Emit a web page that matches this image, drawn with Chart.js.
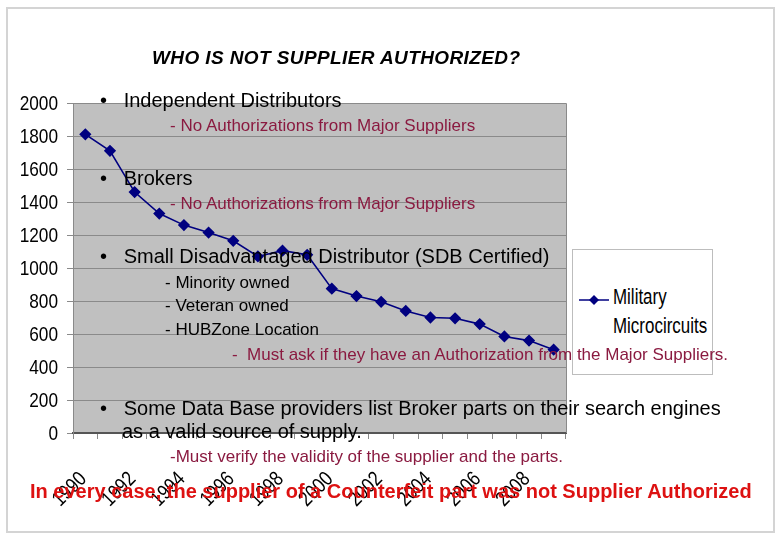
<!DOCTYPE html>
<html>
<head>
<meta charset="utf-8">
<script src="https://cdn.jsdelivr.net/npm/chart.js@4.4.1/dist/chart.umd.min.js"></script>
<style>
  body { margin: 0; background: #fff; }
  #wrap { position: relative; width: 780px; height: 540px; overflow: hidden; }
  #frame { position: absolute; left: 6px; top: 7px; width: 765px; height: 522px; border: 2px solid #d4d4d4; }
  canvas { position: absolute; left: 0; top: 0; }
  .t { position: absolute; white-space: nowrap; line-height: 1; font-family: "Liberation Sans", Arial, sans-serif; }
  .b { font-size: 20px; color: #000; }
  .s { font-size: 17px; color: #8a1a40; }
  .k { font-size: 17px; color: #000; }
  #title { left: 152px; top: 48px; font-size: 19px; font-weight: bold; font-style: italic; letter-spacing: 0.4px; }
  #legend { position: absolute; left: 572px; top: 249px; width: 139px; height: 124px; border: 1px solid #bdbdbd; background: #fff; }
  #legend svg { position: absolute; left: 5px; top: 44px; }
  #legend .lt { position: absolute; left: 40px; top: 32px; font-family: "Liberation Sans", Arial, sans-serif; font-size: 22px; line-height: 29px; color: #000; transform: scaleX(0.77); transform-origin: left top; }
  #red { left: 30px; top: 481px; font-weight: bold; font-size: 20px; color: #dd1111; transform-origin: left top; }
</style>
</head>
<body>
<div id="wrap">
  <div id="frame"></div>
  <div id="legend">
    <svg width="32" height="12"><line x1="1" y1="6" x2="31" y2="6" stroke="#000080" stroke-width="1.5"/><polygon points="16,1 21,6 16,11 11,6" fill="#000080"/></svg>
    <div class="lt">Military<br>Microcircuits</div>
  </div>
  <canvas id="chart" width="780" height="540"></canvas>
  <div class="t" id="title">WHO IS NOT SUPPLIER AUTHORIZED?</div>
  <div class="t b" style="left:100px;top:90px">•&nbsp;&nbsp;&nbsp;Independent Distributors</div>
  <div class="t s" style="left:170px;top:117px">- No Authorizations from Major Suppliers</div>
  <div class="t b" style="left:100px;top:168px">•&nbsp;&nbsp;&nbsp;Brokers</div>
  <div class="t s" style="left:170px;top:195px">- No Authorizations from Major Suppliers</div>
  <div class="t b" style="left:100px;top:246px">•&nbsp;&nbsp;&nbsp;Small Disadvantaged Distributor (SDB Certified)</div>
  <div class="t k" style="left:165px;top:274px">- Minority owned</div>
  <div class="t k" style="left:165px;top:297px">- Veteran owned</div>
  <div class="t k" style="left:165px;top:321px">- HUBZone Location</div>
  <div class="t s" style="left:232px;top:346px">-&nbsp;&nbsp;Must ask if they have an Authorization from the Major Suppliers.</div>
  <div class="t b" style="left:100px;top:398px">•&nbsp;&nbsp;&nbsp;Some Data Base providers list Broker parts on their search engines</div>
  <div class="t b" style="left:122px;top:421px">as a valid source of supply.</div>
  <div class="t s" style="left:170px;top:448px">-Must verify the validity of the supplier and the parts.</div>
  <div class="t" id="red">In every case, the supplier of a Counterfeit part was not Supplier Authorized</div>
</div>
<script>
var years = ['1990', '1991', '1992', '1993', '1994', '1995', '1996', '1997', '1998', '1999',
             '2000', '2001', '2002', '2003', '2004', '2005', '2006', '2007', '2008', '2009'];
var militaryMicrocircuits = [1810, 1710, 1460, 1330, 1260, 1215, 1165, 1070, 1105, 1080,
                             875, 830, 795, 740, 700, 695, 660, 585, 560, 505];
var yTicks = [0, 200, 400, 600, 800, 1000, 1200, 1400, 1600, 1800, 2000];

// squeeze the red line to the width it has on the slide
var red = document.getElementById('red');
red.style.transform = 'scaleX(' + (722 / red.offsetWidth) + ')';

// gray plot area with a thin border, like the old spreadsheet chart
var plotArea = {
    id: 'plotArea',
    beforeDraw: function (chart) {
        var a = chart.chartArea, ctx = chart.ctx;
        ctx.save();
        ctx.fillStyle = '#c0c0c0';
        ctx.fillRect(a.left, a.top, a.right - a.left, a.bottom - a.top);
        ctx.restore();
    },
    beforeDatasetsDraw: function (chart) {
        var a = chart.chartArea, ctx = chart.ctx;
        ctx.save();
        ctx.strokeStyle = '#8a8a8a';
        ctx.lineWidth = 1;
        ctx.beginPath();
        ctx.moveTo(a.left, a.top + 0.5);
        ctx.lineTo(a.right + 0.5, a.top + 0.5);
        ctx.lineTo(a.right + 0.5, a.bottom);
        ctx.stroke();
        ctx.restore();
    }
};

// narrow tick labels (no Arial Narrow here, so squeeze Liberation Sans)
var narrowTicks = {
    id: 'narrowTicks',
    afterDraw: function (chart) {
        var ctx = chart.ctx, xs = chart.scales.x, ys = chart.scales.y;
        ctx.save();
        ctx.fillStyle = '#000';
        ctx.font = '21px "Liberation Sans", Arial, sans-serif';
        ctx.textBaseline = 'middle';
        ctx.textAlign = 'right';
        ys.ticks.forEach(function (t) {
            ctx.save();
            ctx.translate(xs.left - 15, ys.getPixelForValue(t.value) + 1);
            ctx.scale(0.82, 1);
            ctx.fillText(String(t.value), 0, 0);
            ctx.restore();
        });
        years.forEach(function (y, i) {
            if (i % 2) return;
            ctx.save();
            ctx.translate(xs.getPixelForValue(i) - 2, xs.top + 43);
            ctx.rotate(-Math.PI / 4);
            ctx.scale(0.82, 1);
            ctx.fillText(y, 0, 0);
            ctx.restore();
        });
        ctx.restore();
    }
};

new Chart(document.getElementById('chart'), {
    type: 'line',
    data: {
        labels: years,
        datasets: [{
            label: 'Military Microcircuits',
            data: militaryMicrocircuits,
            borderColor: '#000080',
            backgroundColor: '#000080',
            borderWidth: 1.6,
            pointStyle: 'rectRot',
            pointRadius: 5,
            tension: 0
        }]
    },
    options: {
        responsive: false,
        animation: false,
        layout: { padding: { top: 103, right: 214, left: 0, bottom: 0 } },
        plugins: { legend: { display: false }, tooltip: { enabled: false } },
        scales: {
            x: {
                offset: true,
                afterFit: function (s) { s.height = 107; },
                grid: { offset: true, drawOnChartArea: false, tickLength: 6, color: '#8a8a8a' },
                border: { color: '#555', width: 2 },
                ticks: { display: false, autoSkip: false }
            },
            y: {
                min: 0,
                max: 2000,
                afterFit: function (s) { s.width = 73; },
                afterBuildTicks: function (s) { s.ticks = yTicks.map(function (v) { return { value: v }; }); },
                grid: { color: '#8a8a8a', tickLength: 6 },
                border: { color: '#8a8a8a' },
                ticks: { display: false }
            }
        }
    },
    plugins: [plotArea, narrowTicks]
});
</script>
</body>
</html>
